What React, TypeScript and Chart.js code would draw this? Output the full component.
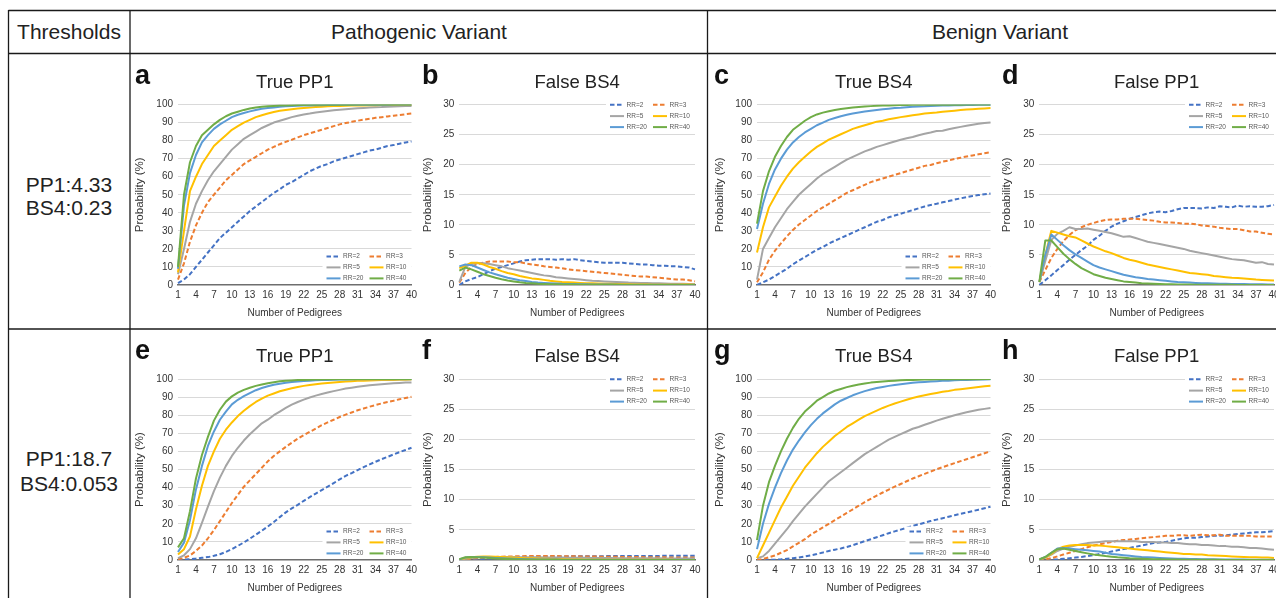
import React, { useEffect, useRef } from 'react';
import { Chart, registerables } from 'chart.js';
Chart.register(...registerables);

const FONT = '"Liberation Sans", Arial, Helvetica, sans-serif';

const PEDIGREES = [1,2,3,4,5,6,7,8,9,10,11,12,13,14,15,16,17,18,19,20,21,22,23,24,25,26,27,28,29,30,31,32,33,34,35,36,37,38,39,40];
const SERIES_LABELS = ['RR=2', 'RR=3', 'RR=5', 'RR=10', 'RR=20', 'RR=40'];
const SERIES_COLORS = ['#4472C4', '#ED7D31', '#A5A5A5', '#FFC000', '#5B9BD5', '#70AD47'];
const SERIES_DASHED = [true, true, false, false, false, false];

const COLUMN_HEADERS = ['Thresholds', 'Pathogenic Variant', 'Benign Variant'];
const ROW_THRESHOLDS = [['PP1:4.33', 'BS4:0.23'], ['PP1:18.7', 'BS4:0.053']];
const PANEL_LETTERS = ['a', 'b', 'c', 'd', 'e', 'f', 'g', 'h'];
const PANEL_TITLES = ['True PP1', 'False BS4', 'True BS4', 'False PP1', 'True PP1', 'False BS4', 'True BS4', 'False PP1'];
const Y_TITLE = 'Probability (%)';
const X_TITLE = 'Number of Pedigrees';

// Panel a: True PP1 (PP1:4.33)
const A_RR2 = [1,3,6,10,14,18,22,26,29,32,35,38,41,43.5,46,48.5,51,53,55.5,57,59,61,63,64.5,66,67,68.5,69.5,70.5,71.5,72.5,73.5,74.5,75,76,77,77.5,78.3,79,79.5];
const A_RR3 = [3,12,24,33,40,46,50,54,58,61,64,67,69,71,73,75,76.5,78,79.3,80.5,81.8,83,84,85,86,87,88,89,89.7,90.4,91,91.6,92.1,92.6,93,93.4,93.8,94.2,94.6,95];
const A_RR5 = [6,20,35,45,52,58,63,67,71,75,78,81,83,85,87,88.5,90,91,92,93,93.8,94.5,95,95.6,96,96.4,96.8,97.1,97.4,97.7,97.9,98.1,98.3,98.5,98.6,98.8,98.9,99,99.1,99.2];
const A_RR10 = [7,30,52,60,67,72,77,80,83,86,88,90,91.5,93,94,95,95.8,96.5,97,97.4,97.8,98.1,98.4,98.6,98.8,99,99.1,99.2,99.3,99.4,99.5,99.5,99.6,99.6,99.7,99.7,99.7,99.8,99.8,99.8];
const A_RR20 = [9,44,62,72,79,83,86.5,89,91,93,94.3,95.3,96.2,97,97.6,98,98.4,98.7,99,99.2,99.3,99.4,99.5,99.6,99.6,99.7,99.7,99.8,99.8,99.8,99.9,99.9,99.9,99.9,99.9,99.9,100,100,100,100];
const A_RR40 = [10,50,68,77,83,86,89,91.5,93.5,95,96,97,97.8,98.3,98.7,99,99.2,99.4,99.5,99.6,99.7,99.7,99.8,99.8,99.8,99.9,99.9,99.9,99.9,99.9,100,100,100,100,100,100,100,100,100,100];

// Panel b: False BS4 (BS4:0.23)
const B_RR2 = [0,0.6,1.0,1.3,1.8,2.3,2.7,3.0,3.3,3.6,3.9,4.1,4.2,4.3,4.3,4.3,4.2,4.3,4.2,4.3,4.1,4.0,3.9,3.8,3.7,3.7,3.7,3.7,3.6,3.5,3.4,3.4,3.3,3.2,3.2,3.1,3.1,3.0,2.9,2.6];
const B_RR3 = [0.4,2.0,3.0,3.5,3.7,3.9,3.9,3.9,3.9,3.8,3.8,3.6,3.4,3.3,3.1,3.0,2.9,2.8,2.6,2.5,2.4,2.3,2.2,2.1,2.0,1.9,1.8,1.7,1.6,1.5,1.4,1.4,1.3,1.2,1.1,1.0,0.9,0.9,0.8,0.6];
const B_RR5 = [0.5,3.0,3.5,3.6,3.6,3.5,3.3,3.1,2.8,2.6,2.4,2.2,2.0,1.8,1.6,1.5,1.3,1.2,1.1,1.0,0.9,0.8,0.7,0.65,0.6,0.55,0.5,0.45,0.4,0.38,0.35,0.32,0.3,0.28,0.25,0.22,0.2,0.2,0.18,0.15];
const B_RR10 = [2.8,3.2,3.7,3.7,3.4,3.0,2.7,2.3,2.0,1.8,1.5,1.3,1.1,1.0,0.85,0.7,0.6,0.5,0.45,0.4,0.35,0.3,0.28,0.25,0.22,0.2,0.18,0.16,0.15,0.14,0.12,0.11,0.1,0.1,0.09,0.08,0.08,0.07,0.07,0.06];
const B_RR20 = [3.1,3.4,3.3,2.9,2.5,2.1,1.8,1.5,1.2,1.0,0.8,0.65,0.5,0.4,0.35,0.3,0.25,0.2,0.18,0.15,0.13,0.12,0.1,0.09,0.08,0.07,0.06,0.06,0.05,0.05,0.04,0.04,0.04,0.03,0.03,0.03,0.03,0.02,0.02,0.02];
const B_RR40 = [2.4,2.9,2.6,2.2,1.8,1.5,1.2,0.95,0.75,0.6,0.45,0.35,0.3,0.22,0.18,0.14,0.12,0.1,0.08,0.07,0.06,0.05,0.04,0.04,0.03,0.03,0.03,0.02,0.02,0.02,0.02,0.02,0.01,0.01,0.01,0.01,0.01,0.01,0.01,0.01];

// Panel c: True BS4 (BS4:0.23)
const C_RR2 = [0,1.5,3,5,7,9,11.5,13.5,15.5,17.5,19.5,21,23,24.5,26,27.5,29,30.5,32,33.5,35,36,37.5,38.5,39.5,40.5,41.5,42.5,43.5,44.3,45,45.8,46.5,47.3,48,48.7,49.3,49.8,50.3,50.7];
const C_RR3 = [1.5,7,14,19,23,27,30.5,33.5,36,38.5,41,43,45,47,49,51,52.5,54,55.5,57,58,59,60,61,62,63,64,65,66,66.5,67.5,68.3,69,69.8,70.5,71.2,71.8,72.4,73,73.5];
const C_RR5 = [3,20,26,32,37,42,46,50,53,56,59,61.5,63.5,65.5,67.5,69.5,71,72.5,74,75.2,76.5,77.5,78.5,79.5,80.5,81.3,82,83,83.8,84.5,85.3,85.5,86.3,87,87.6,88.2,88.8,89.3,89.7,90];
const C_RR10 = [18,32,43,49,55,60,64.5,68,71,74,76.5,78.5,80.5,82,83.5,85,86.5,87.5,88.5,89.5,90.5,91,91.8,92.4,93,93.5,94,94.5,95,95.3,95.6,96,96.3,96.6,96.9,97.2,97.4,97.6,97.8,98];
const C_RR20 = [31,45,56,64,70,75,79,82,84.5,86.5,88.5,90,91.5,92.5,93.5,94.3,95,95.6,96.1,96.6,97,97.4,97.7,98,98.2,98.5,98.7,98.9,99,99.2,99.3,99.4,99.5,99.6,99.6,99.7,99.7,99.8,99.8,99.8];
const C_RR40 = [34,52,63,71,77,82,86,88.5,91,93,94.5,95.5,96.3,97,97.5,97.9,98.3,98.6,98.9,99.1,99.3,99.4,99.5,99.6,99.7,99.7,99.8,99.8,99.8,99.9,99.9,99.9,99.9,99.9,99.9,100,100,100,100,100];

// Panel d: False PP1 (PP1:4.33)
const D_RR2 = [0,0.8,1.6,2.5,3.3,4.2,5,5.8,6.5,7.5,8.2,9,9.7,10.2,10.6,11,11.3,11.6,11.9,12.1,12.2,12.1,12.3,12.6,12.8,12.8,12.8,12.7,12.9,12.8,13.1,13.0,12.9,13.2,13.0,13.1,13.0,13.0,13.1,13.3];
const D_RR3 = [0.5,2.5,4.5,6,7.3,8.3,9.1,9.6,10,10.3,10.6,10.8,10.9,10.9,11,11,11,10.9,10.8,10.7,10.5,10.4,10.4,10.3,10.2,10.2,10.1,9.9,9.8,9.7,9.5,9.4,9.3,9.3,9.1,8.9,8.9,8.7,8.5,8.4];
const D_RR5 = [0.5,4,7.5,8.5,9,9.6,9.3,9.3,9.4,9.2,9.0,8.8,8.6,8.3,8.0,8.1,7.8,7.5,7.2,7.0,6.8,6.6,6.4,6.2,6.0,5.7,5.5,5.3,5.1,4.9,4.7,4.5,4.3,4.2,4.1,3.9,3.7,3.8,3.5,3.4];
const D_RR10 = [0.5,5,9.0,8.7,8.4,8.1,7.9,7.4,6.9,6.4,6.0,5.6,5.3,4.9,4.5,4.2,4.0,3.7,3.4,3.2,3.0,2.8,2.6,2.4,2.2,2.0,1.9,1.8,1.7,1.5,1.4,1.3,1.2,1.15,1.1,1.0,0.9,0.85,0.8,0.75];
const D_RR20 = [0.5,5,8.4,7.5,6.6,5.8,5.1,4.5,3.9,3.3,2.9,2.6,2.3,2.0,1.7,1.5,1.3,1.15,1.0,0.9,0.8,0.7,0.6,0.5,0.45,0.4,0.35,0.3,0.28,0.25,0.22,0.2,0.18,0.16,0.15,0.13,0.12,0.11,0.1,0.1];
const D_RR40 = [0.5,7.4,7.4,6.3,5.2,4.3,3.5,2.8,2.3,1.8,1.5,1.2,1.0,0.8,0.6,0.5,0.4,0.3,0.25,0.2,0.17,0.14,0.12,0.1,0.08,0.07,0.06,0.05,0.04,0.04,0.03,0.03,0.03,0.02,0.02,0.02,0.02,0.02,0.02,0.02];

// Panel e: True PP1 (PP1:18.7)
const E_RR2 = [0,0.2,0.5,0.8,1.2,1.6,2.3,3.2,4.5,6,7.8,9.7,11.8,14,16.2,18.5,21,23.7,26.3,28.5,30.5,32.7,34.7,36.7,38.6,40.5,42.5,44.5,46.5,48,49.7,51.3,52.8,54.3,55.7,57,58.3,59.6,60.8,62];
const E_RR3 = [0.4,1.2,2.5,5,8,12,16.5,21.5,26.5,31.5,36,40.5,44,47.5,51,54.5,57.5,60,62.5,64.8,67,69,70.8,72.6,74.5,76,77.5,79,80.3,81.5,82.7,83.7,84.7,85.6,86.5,87.3,88,88.8,89.5,90.2];
const E_RR5 = [1,2.6,6,12,20.5,29.5,38,45.5,52,57.5,62,66,69.5,72.5,75.5,77.5,80,82,84,85.8,87.3,88.6,89.8,90.8,91.7,92.5,93.3,94,94.7,95.2,95.7,96.1,96.5,96.8,97.1,97.4,97.6,97.8,98,98.1];
const E_RR10 = [3,6,13,28,41,52,60,67,72,76,79.5,82.5,85,87.3,89.2,90.8,92,93.2,94.1,94.9,95.6,96.2,96.7,97.1,97.5,97.8,98.1,98.4,98.6,98.8,99,99.1,99.2,99.3,99.4,99.5,99.5,99.6,99.6,99.7];
const E_RR20 = [4.4,9.6,22,39,52,63,71,77.5,82,86,88.5,90.5,92.2,93.8,95,96,96.8,97.4,97.9,98.3,98.6,98.9,99.1,99.3,99.4,99.5,99.6,99.7,99.7,99.8,99.8,99.8,99.9,99.9,99.9,99.9,99.9,99.9,99.9,99.9];
const E_RR40 = [7,12,27,45,58,68,77,83,87.5,90.4,92.5,94,95.2,96.2,97,97.7,98.2,98.7,99,99.2,99.4,99.5,99.6,99.7,99.7,99.8,99.8,99.9,99.9,99.9,100,100,100,100,100,100,100,100,100,100];

// Panel f: False BS4 (BS4:0.053)
const F_RR2 = [0,0.05,0.1,0.15,0.2,0.25,0.3,0.35,0.4,0.45,0.48,0.5,0.52,0.55,0.55,0.58,0.6,0.6,0.6,0.62,0.62,0.63,0.63,0.64,0.64,0.65,0.65,0.66,0.66,0.67,0.67,0.68,0.68,0.68,0.69,0.69,0.7,0.7,0.7,0.7];
const F_RR3 = [0,0.1,0.2,0.3,0.4,0.45,0.5,0.55,0.58,0.6,0.63,0.65,0.65,0.66,0.66,0.66,0.65,0.64,0.63,0.62,0.6,0.59,0.58,0.56,0.55,0.54,0.52,0.51,0.5,0.49,0.48,0.47,0.46,0.45,0.44,0.43,0.42,0.42,0.41,0.4];
const F_RR5 = [0,0.2,0.35,0.45,0.5,0.5,0.5,0.5,0.5,0.48,0.47,0.46,0.45,0.44,0.43,0.42,0.41,0.4,0.39,0.38,0.37,0.36,0.35,0.34,0.33,0.32,0.31,0.3,0.3,0.29,0.28,0.28,0.27,0.27,0.26,0.26,0.25,0.25,0.25,0.24];
const F_RR10 = [0.05,0.3,0.45,0.55,0.6,0.6,0.55,0.5,0.45,0.4,0.35,0.3,0.27,0.24,0.21,0.19,0.17,0.15,0.13,0.12,0.11,0.1,0.09,0.08,0.07,0.06,0.06,0.05,0.05,0.04,0.04,0.04,0.03,0.03,0.03,0.03,0.02,0.02,0.02,0.02];
const F_RR20 = [0.1,0.4,0.5,0.5,0.45,0.4,0.35,0.3,0.25,0.2,0.17,0.14,0.12,0.1,0.09,0.08,0.07,0.06,0.05,0.05,0.04,0.04,0.03,0.03,0.03,0.02,0.02,0.02,0.02,0.02,0.01,0.01,0.01,0.01,0.01,0.01,0.01,0.01,0.01,0.01];
const F_RR40 = [0.15,0.45,0.5,0.45,0.4,0.32,0.25,0.2,0.15,0.12,0.1,0.08,0.06,0.05,0.04,0.03,0.03,0.02,0.02,0.02,0.01,0.01,0.01,0.01,0.01,0.01,0.01,0.01,0.01,0.01,0,0,0,0,0,0,0,0,0,0];

// Panel g: True BS4 (BS4:0.053)
const G_RR2 = [0,0,0.1,0.2,0.4,0.7,1.0,1.4,2.0,2.6,3.3,4.1,5.0,5.7,6.4,7.2,8.2,9.3,10.4,11.5,12.6,13.7,14.8,15.8,16.8,17.8,18.8,19.7,20.6,21.5,22.3,23.1,23.9,24.7,25.5,26.2,27,27.8,28.6,29.4];
const G_RR3 = [0,0.5,1.5,2.5,4,5.5,7.5,9.5,11.5,14,16,18,20,22,24,26,28,30,32,33.8,35.6,37.3,38.9,40.5,42,43.5,45,46.3,47.6,48.9,50.1,51.3,52.4,53.5,54.6,55.7,56.8,57.9,59,60];
const G_RR5 = [1,2,5,9,13,17,21.5,25.5,29.5,33,36.5,40,43.5,46,48.5,51,53.5,56,58.5,60.5,62.5,64.5,66.5,68,69.5,71,72.5,73.5,74.7,75.8,77,78,79,80,80.8,81.6,82.3,83,83.5,84];
const G_RR10 = [1,8,15,22,29,35,41,46,51,55,59,62.5,65.5,68.5,71,73.5,75.5,77.5,79.5,81,82.5,84,85.3,86.5,87.5,88.5,89.5,90.3,91,91.7,92.3,92.9,93.4,94,94.4,94.8,95.2,95.6,96,96.3];
const G_RR20 = [6,20,31,40,48,55,61,66,70.5,74.5,78,81,83.5,86,88,89.5,91,92.2,93.3,94.2,95,95.6,96.2,96.7,97.1,97.5,97.9,98.2,98.4,98.6,98.8,99,99.1,99.3,99.4,99.5,99.6,99.7,99.75,99.8];
const G_RR40 = [11,30,43,52,60,67,73,78,82,85,88,90,92,93.5,94.5,95.5,96.3,97,97.5,98,98.3,98.6,98.9,99.1,99.3,99.4,99.5,99.6,99.7,99.7,99.8,99.8,99.8,99.9,99.9,99.9,99.9,99.9,100,100];

// Panel h: False PP1 (PP1:18.7)
const H_RR2 = [0,0,0.05,0.1,0.2,0.3,0.4,0.5,0.65,0.8,1.0,1.2,1.4,1.6,1.8,2.0,2.2,2.4,2.6,2.8,2.9,3.0,3.2,3.4,3.6,3.7,3.7,3.8,3.9,4.0,4.0,4.1,4.2,4.3,4.4,4.5,4.6,4.6,4.7,4.8];
const H_RR3 = [0,0.1,0.3,0.6,0.9,1.2,1.5,1.8,2.1,2.4,2.6,2.8,3.0,3.2,3.3,3.4,3.5,3.6,3.7,3.8,3.9,4.0,4.0,4.1,4.1,4.0,4.1,4.2,4.1,4.1,4.2,4.0,4.0,4.0,4.0,4.0,3.9,3.9,3.9,3.9];
const H_RR5 = [0.1,0.4,0.9,1.5,1.9,2.2,2.4,2.6,2.8,2.9,3.0,3.1,3.1,3.1,3.1,3.1,3.1,3.0,3.0,3.0,2.9,2.9,2.8,2.8,2.7,2.6,2.6,2.5,2.5,2.4,2.3,2.3,2.2,2.2,2.1,2.0,2.0,1.9,1.8,1.7];
const H_RR10 = [0.1,0.4,1.0,1.8,2.2,2.4,2.5,2.5,2.5,2.4,2.4,2.3,2.2,2.1,2.0,1.9,1.8,1.7,1.6,1.5,1.4,1.3,1.2,1.1,1.0,1.0,0.9,0.9,0.8,0.75,0.7,0.65,0.6,0.55,0.5,0.45,0.45,0.4,0.4,0.35];
const H_RR20 = [0.1,0.5,1.2,1.9,2.0,1.9,1.8,1.7,1.6,1.5,1.4,1.2,1.0,0.9,0.8,0.7,0.6,0.5,0.45,0.4,0.35,0.3,0.25,0.22,0.2,0.18,0.16,0.14,0.12,0.11,0.1,0.09,0.08,0.07,0.07,0.06,0.06,0.05,0.05,0.05];
const H_RR40 = [0.1,0.5,1.2,1.8,1.9,1.7,1.5,1.3,1.1,0.9,0.8,0.65,0.55,0.45,0.38,0.3,0.25,0.2,0.17,0.14,0.12,0.1,0.08,0.07,0.06,0.05,0.04,0.04,0.03,0.03,0.03,0.02,0.02,0.02,0.02,0.02,0.02,0.02,0.02,0.02];

const PANEL_SERIES = [
  [A_RR2, A_RR3, A_RR5, A_RR10, A_RR20, A_RR40],
  [B_RR2, B_RR3, B_RR5, B_RR10, B_RR20, B_RR40],
  [C_RR2, C_RR3, C_RR5, C_RR10, C_RR20, C_RR40],
  [D_RR2, D_RR3, D_RR5, D_RR10, D_RR20, D_RR40],
  [E_RR2, E_RR3, E_RR5, E_RR10, E_RR20, E_RR40],
  [F_RR2, F_RR3, F_RR5, F_RR10, F_RR20, F_RR40],
  [G_RR2, G_RR3, G_RR5, G_RR10, G_RR20, G_RR40],
  [H_RR2, H_RR3, H_RR5, H_RR10, H_RR20, H_RR40],
];
const PANEL_YMAX = [100, 30, 100, 30, 100, 30, 100, 30];
const PANEL_YSTEP = [10, 5, 10, 5, 10, 5, 10, 5];

// layout (pixels)
const ROWS = [{ yT: 104.5, yB: 285 }, { yT: 379, yB: 560 }];
const COLS = [
  { xL: 178, xR: 411.5, letterX: 135, yTitleX: 140 },
  { xL: 459.3, xR: 695, letterX: 422, yTitleX: 428.3 },
  { xL: 757, xR: 990.5, letterX: 714, yTitleX: 720 },
  { xL: 1039.3, xR: 1274, letterX: 1002, yTitleX: 1006.7 },
];

const decorPlugin = {
  id: 'panelDecor',
  afterDraw(chart: any, _args: any, o: any) {
    const ctx = chart.ctx;
    const ca = chart.chartArea;
    ctx.save();
    // legend
    const dx = o.legendDx || 0;
    const rows = o.legendTop
      ? [ca.top + 0.3, ca.top + 11.6, ca.top + 22.6]
      : [ca.bottom - 28.5, ca.bottom - 17.6, ca.bottom - 6.6];
    ctx.fillStyle = '#ffffff';
    ctx.fillRect(ca.right - 89 + dx, rows[0] - 5, 89, rows[2] - rows[0] + 10);
    for (let i = 0; i < 6; i++) {
      const col = i % 2;
      const row = Math.floor(i / 2);
      const x0 = ca.right + dx + (col ? -42 : -85);
      const y = rows[row];
      ctx.beginPath();
      ctx.setLineDash(SERIES_DASHED[i] ? [4.5, 2.5] : []);
      ctx.strokeStyle = SERIES_COLORS[i];
      ctx.lineWidth = 2;
      ctx.moveTo(x0, y);
      ctx.lineTo(x0 + 14, y);
      ctx.stroke();
      ctx.setLineDash([]);
      ctx.fillStyle = '#595959';
      ctx.font = `6.5px ${FONT}`;
      ctx.textAlign = 'left';
      ctx.textBaseline = 'middle';
      ctx.fillText(SERIES_LABELS[i], x0 + 16.5, y);
    }
    // panel letter
    ctx.fillStyle = '#111';
    ctx.font = `bold 27px ${FONT}`;
    ctx.textAlign = 'left';
    ctx.textBaseline = 'alphabetic';
    ctx.fillText(o.letter, o.letterX, ca.top - 20.5);
    // title
    ctx.font = `18.5px ${FONT}`;
    ctx.fillStyle = '#222';
    ctx.textAlign = 'center';
    ctx.fillText(o.title, (ca.left + ca.right) / 2, ca.top - 16.7);
    // x title
    ctx.font = `10px ${FONT}`;
    ctx.fillStyle = '#333';
    ctx.textBaseline = 'middle';
    ctx.fillText(X_TITLE, (ca.left + ca.right) / 2, ca.bottom + 28.3);
    // y title
    ctx.translate(o.yTitleX, (ca.top + ca.bottom) / 2);
    ctx.rotate(-Math.PI / 2);
    ctx.font = `11.5px ${FONT}`;
    ctx.fillText(Y_TITLE, 0, 0);
    ctx.restore();
  },
};

function PanelChart({ idx }: { idx: number }) {
  const ref = useRef<HTMLCanvasElement>(null);
  const row = ROWS[Math.floor(idx / 4)];
  const col = COLS[idx % 4];
  const cx = Math.round(col.xL - 62);
  const cy = Math.round(row.yT - 50);
  const cw = Math.round(col.xR + 14) - cx;
  const ch = Math.round(row.yB + 42) - cy;

  useEffect(() => {
    const canvas = ref.current;
    if (!canvas) return;
    const series = PANEL_SERIES[idx];
    const chart = new Chart(canvas, {
      type: 'line',
      data: {
        labels: PEDIGREES.map(String),
        datasets: series.map((vals, i) => ({
          label: SERIES_LABELS[i],
          data: vals,
          borderColor: SERIES_COLORS[i],
          backgroundColor: SERIES_COLORS[i],
          borderWidth: 2,
          borderDash: SERIES_DASHED[i] ? [4.5, 2.5] : [],
          borderJoinStyle: 'round',
          pointRadius: 0,
          tension: 0,
          fill: false,
          order: 5 - i,
        })),
      },
      options: {
        responsive: false,
        animation: false,
        devicePixelRatio: 1,
        layout: { padding: { left: 0, top: row.yT - cy, right: cx + cw - col.xR, bottom: 0 } },
        plugins: {
          legend: { display: false },
          tooltip: { enabled: false },
          title: { display: false },
          panelDecor: {
            letter: PANEL_LETTERS[idx],
            title: PANEL_TITLES[idx],
            letterX: col.letterX - cx,
            yTitleX: col.yTitleX - cx,
            legendTop: PANEL_YMAX[idx] === 30,
            legendDx: idx === 6 ? 4 : 0,
          },
        } as any,
        scales: {
          x: {
            type: 'category',
            offset: false,
            grid: { display: false, drawTicks: false },
            border: { display: true, color: '#6e6e6e', width: 1.5 },
            ticks: {
              autoSkip: false,
              maxRotation: 0,
              minRotation: 0,
              padding: 4.5,
              color: '#333',
              font: { family: FONT, size: 10 },
              callback: (_v: any, i: number) => (i % 3 === 0 ? String(PEDIGREES[i]) : null),
            },
            afterFit: (s: any) => { s.height = cy + ch - row.yB; },
          },
          y: {
            min: 0,
            max: PANEL_YMAX[idx],
            grid: {
              drawTicks: false,
              lineWidth: 1,
              color: (c: any) => (c.tick && c.tick.value === 0 ? 'rgba(0,0,0,0)' : '#d9d9d9'),
            },
            border: { display: false },
            ticks: {
              stepSize: PANEL_YSTEP[idx],
              padding: 5,
              color: '#333',
              font: { family: FONT, size: 10 },
            },
            afterFit: (s: any) => { s.width = col.xL - cx; },
          },
        },
      } as any,
      plugins: [decorPlugin],
    });
    return () => chart.destroy();
  }, [idx]);

  return (
    <canvas
      ref={ref}
      width={cw}
      height={ch}
      style={{ position: 'absolute', left: cx, top: cy, width: cw, height: ch }}
    />
  );
}

const textStyle: React.CSSProperties = {
  position: 'absolute',
  fontFamily: FONT,
  fontSize: 21,
  color: '#222',
  whiteSpace: 'nowrap',
  transform: 'translate(-50%, -50%)',
  textAlign: 'center',
};

export default function App() {
  const lineColor = '#1a1a1a';
  const lw = 1.3;
  return (
    <div
      style={{
        position: 'fixed',
        left: 0,
        top: 0,
        width: 1276,
        height: 598,
        overflow: 'hidden',
        background: '#ffffff',
      }}
    >
      <svg width={1276} height={598} style={{ position: 'absolute', left: 0, top: 0 }}>
        <line x1={8.5} y1={10.5} x2={1276} y2={10.5} stroke={lineColor} strokeWidth={lw} />
        <line x1={8.5} y1={53.5} x2={1276} y2={53.5} stroke={lineColor} strokeWidth={lw} />
        <line x1={8.5} y1={329} x2={1276} y2={329} stroke={lineColor} strokeWidth={lw} />
        <line x1={8.5} y1={10} x2={8.5} y2={598} stroke={lineColor} strokeWidth={lw} />
        <line x1={130} y1={10} x2={130} y2={598} stroke={lineColor} strokeWidth={lw} />
        <line x1={707.5} y1={10} x2={707.5} y2={598} stroke={lineColor} strokeWidth={lw} />
      </svg>
      <div style={{ ...textStyle, left: 69, top: 32 }}>{COLUMN_HEADERS[0]}</div>
      <div style={{ ...textStyle, left: 419, top: 32 }}>{COLUMN_HEADERS[1]}</div>
      <div style={{ ...textStyle, left: 1000, top: 32 }}>{COLUMN_HEADERS[2]}</div>
      <div style={{ ...textStyle, left: 69, top: 195.5, lineHeight: '23px' }}>
        {ROW_THRESHOLDS[0][0]}
        <br />
        {ROW_THRESHOLDS[0][1]}
      </div>
      <div style={{ ...textStyle, left: 69, top: 470.5, lineHeight: '25px' }}>
        {ROW_THRESHOLDS[1][0]}
        <br />
        {ROW_THRESHOLDS[1][1]}
      </div>
      {PANEL_LETTERS.map((_l, i) => (
        <PanelChart key={i} idx={i} />
      ))}
    </div>
  );
}
